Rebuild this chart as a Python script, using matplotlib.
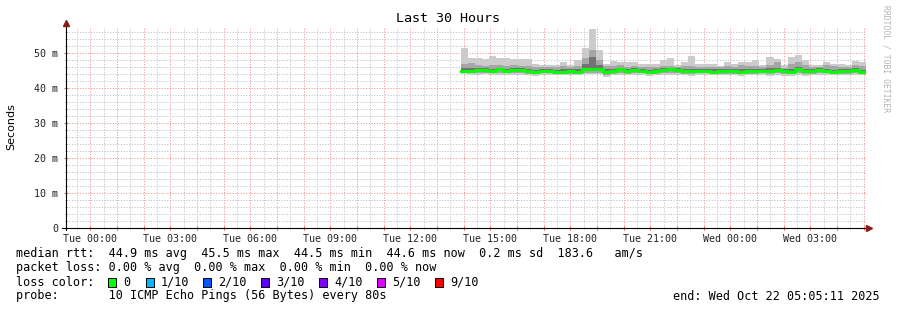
import matplotlib
matplotlib.use("Agg")
import matplotlib.pyplot as plt
import matplotlib.dates as mdates
from matplotlib.patches import Rectangle
from matplotlib.ticker import MultipleLocator, FuncFormatter
import pandas as pd

W, H = 897, 310
END = pd.Timestamp("2025-10-22 05:05:11")
START = END - pd.Timedelta(hours=30)

# 16-minute consolidated bins, values in ms
smoke_max = [51.3, 48.5, 48.5, 48.2, 49.1, 48.7, 48.5, 48.2, 48.2, 48.2,
             47.0, 46.6, 46.6, 46.6, 47.4, 46.6, 48.0, 51.3, 57.0, 51.0,
             47.0, 47.8, 47.5, 47.5, 47.5, 47.0, 46.8, 46.8, 48.0, 48.7,
             46.6, 47.5, 49.1, 46.8, 46.8, 46.8, 46.4, 47.3, 46.8, 47.4,
             47.3, 48.0, 46.6, 48.9, 48.3, 46.5, 48.9, 49.5, 48.0, 46.6,
             46.6, 47.5, 47.0, 47.0, 46.6, 47.8, 47.5]
smoke_upper = [47.0, 47.2, 46.6, 46.4, 46.6, 46.5, 46.4, 46.6, 46.4, 46.2,
               46.0, 46.0, 45.9, 45.9, 46.2, 46.0, 46.4, 48.6, 51.0, 48.0,
               46.2, 46.3, 46.5, 46.1, 46.2, 46.1, 45.9, 46.0, 46.3, 46.3,
               45.9, 46.2, 46.4, 46.0, 46.1, 46.0, 45.9, 46.3, 46.1, 46.5,
               46.3, 46.4, 45.9, 46.6, 47.3, 45.8, 46.9, 47.4, 46.5, 45.9,
               46.0, 46.5, 46.2, 46.1, 45.9, 46.6, 46.4]
inner_hi = [45.6, 45.8, 45.6, 45.7, 45.5, 45.8, 45.4, 45.8, 45.6, 45.4,
            45.2, 45.4, 45.3, 45.2, 45.3, 45.3, 45.3, 47.0, 48.9, 46.5,
            45.3, 45.5, 45.8, 45.4, 45.6, 45.5, 45.2, 45.4, 45.6, 45.8,
            45.6, 45.3, 45.5, 45.4, 45.5, 45.3, 45.3, 45.4, 45.4, 45.4,
            45.4, 45.5, 45.3, 45.6, 45.8, 45.5, 45.3, 45.9, 45.5, 45.3,
            45.7, 45.5, 45.2, 45.4, 45.4, 45.8, 45.2]
median = [45.0, 45.0, 45.1, 45.2, 44.9, 45.4, 44.9, 45.2, 45.1, 44.8,
          44.6, 44.9, 44.8, 44.7, 44.7, 44.8, 44.7, 45.3, 45.3, 45.5,
          44.6, 44.9, 45.3, 44.9, 45.1, 45.0, 44.7, 44.9, 45.1, 45.3,
          45.2, 44.8, 44.9, 44.9, 45.0, 44.7, 44.8, 44.8, 44.9, 44.7,
          44.8, 44.8, 44.9, 44.8, 45.2, 45.0, 44.7, 45.3, 44.9, 44.8,
          45.2, 45.0, 44.7, 44.8, 44.9, 45.2, 44.6]
inner_lo = [44.7, 44.6, 44.7, 44.8, 44.5, 44.9, 44.5, 44.8, 44.7, 44.4,
            44.2, 44.5, 44.5, 44.3, 44.4, 44.4, 44.3, 44.8, 44.8, 45.0,
            44.1, 44.5, 44.8, 44.5, 44.7, 44.6, 44.3, 44.5, 44.6, 44.9,
            44.8, 44.4, 44.5, 44.5, 44.6, 44.3, 44.4, 44.4, 44.5, 44.3,
            44.4, 44.4, 44.5, 44.3, 44.7, 44.6, 44.3, 44.8, 44.4, 44.4,
            44.8, 44.6, 44.3, 44.4, 44.5, 44.7, 44.2]
smoke_lower = [44.4, 44.3, 44.4, 44.4, 44.2, 44.4, 44.2, 44.3, 44.3, 44.1,
               44.0, 44.2, 44.2, 44.1, 44.1, 44.1, 44.1, 44.3, 44.4, 44.4,
               43.8, 44.1, 44.3, 44.1, 44.2, 44.2, 44.0, 44.1, 44.2, 44.3,
               44.3, 44.1, 44.1, 44.2, 44.2, 44.1, 44.1, 44.1, 44.1, 44.0,
               44.1, 44.1, 44.2, 44.0, 44.2, 44.1, 44.0, 44.2, 43.9, 44.1,
               44.2, 44.2, 44.0, 44.1, 44.1, 44.2, 44.0]
smoke_min = [43.9, 43.8, 43.8, 43.9, 43.7, 43.8, 43.6, 43.7, 43.8, 43.6,
             43.5, 43.7, 43.8, 43.7, 43.8, 43.6, 43.7, 43.9, 43.9, 43.9,
             43.2, 43.6, 43.8, 43.6, 43.7, 43.7, 43.5, 43.6, 43.7, 43.8,
             43.8, 43.6, 43.5, 43.7, 43.8, 43.6, 43.6, 43.7, 43.6, 43.5,
             43.7, 43.6, 43.7, 43.5, 43.7, 43.5, 43.5, 43.6, 43.3, 43.7,
             43.6, 43.7, 43.6, 43.7, 43.6, 43.7, 43.6]

rtt_stats = [44.9, 45.5, 44.5, 44.6]
rtt_sd = 0.2
am_s = 183.6
loss_stats = [0.00, 0.00, 0.00, 0.00]
loss_labels = ["0", "1/10", "2/10", "3/10", "4/10", "5/10", "9/10"]
loss_colors = ["#00ff00", "#00b8ff", "#0059ff", "#5e00ff", "#7e00ff", "#dd00ff", "#ff0000"]
probe_text = "10 ICMP Echo Pings (56 Bytes) every 80s"

MONO = "DejaVu Sans Mono"


def fx(px):
    return px / W


def fy(py):
    return 1 - py / H


edges = pd.date_range(end=END, periods=len(median) + 1, freq="16min").to_pydatetime()


def ext(a):
    return list(a) + [a[-1]]


fig = plt.figure(figsize=(W / 100, H / 100), dpi=100)
ax = fig.add_axes([fx(66), fy(228), 800 / W, 200 / H])
ax.set_xlim(START.to_pydatetime(), END.to_pydatetime())
ax.set_ylim(0, 200 / 3.5)

# grid
ax.xaxis.set_major_locator(mdates.HourLocator(interval=1))
ax.xaxis.set_minor_locator(mdates.MinuteLocator(byminute=[30]))
ax.xaxis.set_major_formatter(FuncFormatter(
    lambda v, p: mdates.num2date(v).strftime("%a %H:%M") if mdates.num2date(v).hour % 3 == 0 else ""))
ax.yaxis.set_major_locator(MultipleLocator(10))
ax.yaxis.set_minor_locator(MultipleLocator(2))
ax.yaxis.set_major_formatter(FuncFormatter(lambda v, p: "0" if v == 0 else f"{v:g} m"))
ax.grid(which="major", color="#f09a9a", lw=0.7, ls=(0, (1.2, 1.6)))
ax.grid(which="minor", color="#c4c4c4", lw=0.7, ls=(0, (1.2, 1.6)))
ax.set_axisbelow(True)
ax.tick_params(which="major", axis="x", length=3, direction="inout", color="#e06060",
               labelsize=7.2, pad=3, labelfontfamily=MONO, labelcolor="#222222")
ax.tick_params(which="minor", axis="x", length=2, direction="inout", color="#999999")
ax.tick_params(which="major", axis="y", length=3, direction="inout", color="#e06060",
               labelsize=7.2, pad=4, labelfontfamily=MONO, labelcolor="#222222")
ax.tick_params(which="minor", axis="y", length=2, direction="inout", color="#999999")
for s in ax.spines.values():
    s.set_visible(False)

# smoke
ax.fill_between(edges, ext(smoke_min), ext(smoke_max), step="post", color="#cbcbcb", lw=0)
ax.fill_between(edges, ext(smoke_lower), ext(smoke_upper), step="post", color="#a6a6a6", lw=0)
ax.fill_between(edges, ext(inner_lo), ext(inner_hi), step="post", color="#737373", lw=0)
ax.step(edges, ext(median), where="post", color="#00ff00", lw=2.2)

# axes with arrows
fig.add_artist(plt.Line2D([fx(66), fx(66)], [fy(230), fy(24)], color="black", lw=0.8))
fig.add_artist(plt.Line2D([fx(62), fx(868)], [fy(228), fy(228)], color="black", lw=0.8))
fig.add_artist(plt.Line2D([fx(66)], [fy(23)], marker="^", color="#8b1a1a", ms=4.5, lw=0))
fig.add_artist(plt.Line2D([fx(869)], [fy(228)], marker=">", color="#8b1a1a", ms=4.5, lw=0))

fig.text(fx(448), fy(19), "Last 30 Hours", ha="center", va="center", family=MONO, size=9.6)
fig.text(fx(11), fy(127), "Seconds", ha="center", va="center", rotation=90,
         family="DejaVu Sans", size=8)
fig.text(fx(886), fy(5), "RRDTOOL / TOBI OETIKER", ha="center", va="top", rotation=-90,
         family=MONO, size=5.8, color="#b4b4b4")

lw_ = 8.5
rtt_line = ("median rtt:  {:.1f} ms avg  {:.1f} ms max  {:.1f} ms min  {:.1f} ms now"
            "  {:.1f} ms sd  {:.1f}   am/s").format(*rtt_stats, rtt_sd, am_s)
loss_line = "packet loss: {:.2f} % avg  {:.2f} % max  {:.2f} % min  {:.2f} % now".format(*loss_stats)
fig.text(fx(16), fy(254), rtt_line, ha="left", va="center", family=MONO, size=lw_)
fig.text(fx(16), fy(268), loss_line, ha="left", va="center", family=MONO, size=lw_)
fig.text(fx(16), fy(282), "loss color:", ha="left", va="center", family=MONO, size=lw_)
fig.text(fx(16), fy(296), "probe:       " + probe_text, ha="left", va="center",
         family=MONO, size=lw_)
fig.text(fx(880), fy(296), "end: " + END.strftime("%a %b %d %H:%M:%S %Y"), ha="right",
         va="center", family=MONO, size=lw_)

box_x = [108, 146, 203, 261, 319, 377, 435]
for bx, lab, col in zip(box_x, loss_labels, loss_colors):
    fig.add_artist(Rectangle((fx(bx), fy(287)), 8 / W, 9 / H, transform=fig.transFigure,
                             facecolor=col, edgecolor="black", lw=0.7))
    fig.text(fx(bx + 15), fy(282), lab, ha="left", va="center", family=MONO, size=lw_)

fig.savefig("out.png", dpi=100)
